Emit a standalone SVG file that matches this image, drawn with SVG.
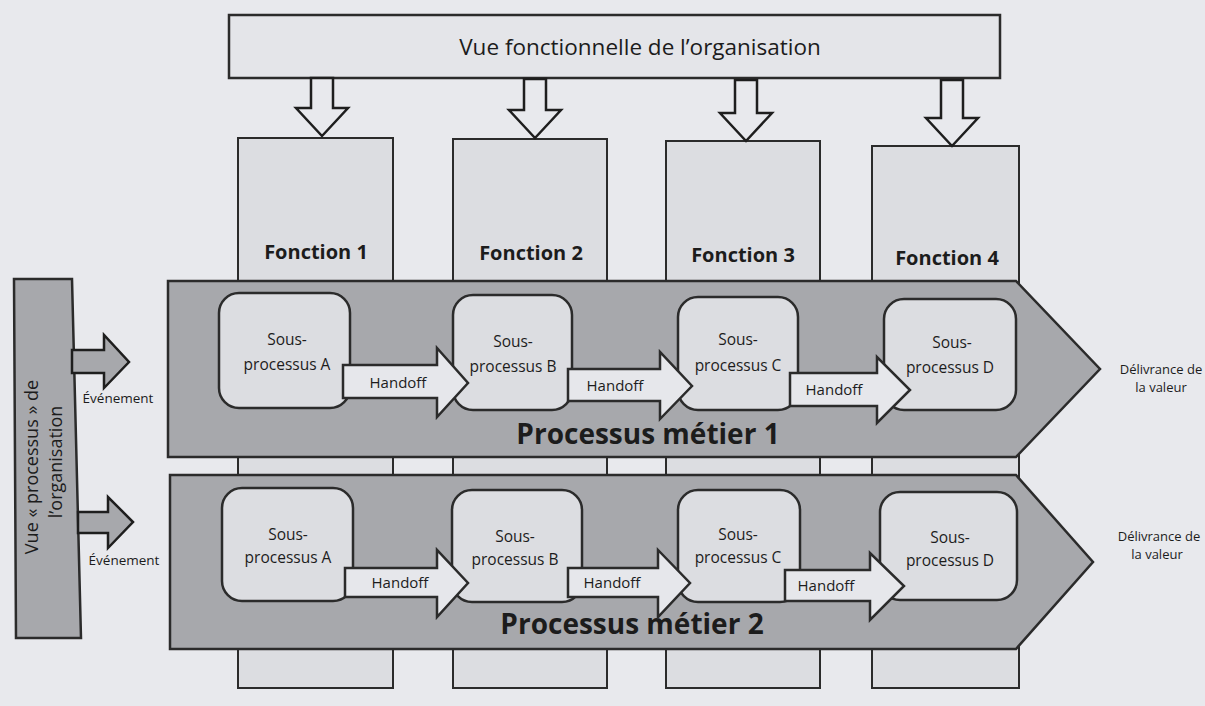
<svg xmlns="http://www.w3.org/2000/svg" width="1205" height="706" viewBox="0 0 1205 706">
<style>
.bg{fill:#e8e9ed}
.box{fill:#e4e5e9;stroke:#2b2b2b;stroke-width:2.5}
.fn{fill:#dcdde1;stroke:#2b2b2b;stroke-width:2}
.band{fill:#a7a8ac;stroke:#2b2b2b;stroke-width:2.5}
.sub{fill:#dcdde1;stroke:#2b2b2b;stroke-width:2.5}
.ho{fill:#e6e7eb;stroke:#2b2b2b;stroke-width:2.5;stroke-linejoin:miter}
.down{fill:#e8e9ed;stroke:#1e1e1e;stroke-width:2.5}
.ev{fill:#a7a8ac;stroke:#1e1e1e;stroke-width:2.5}
text{font-family:"Open Sans","Noto Sans","DejaVu Sans",sans-serif;fill:#1c1c1c;text-anchor:middle}
.t1{font-size:22.5px}
.fl{font-size:20px;font-weight:bold}
.st{font-size:15.5px}
.hl{font-size:15px}
.pt{font-size:28px;font-weight:bold}
.sm{font-size:13.5px}
.xs{font-size:13px}
.vt{font-size:18px}
</style>
<rect class="bg" x="0" y="0" width="1205" height="706"/>

<g id="functions">
<g id="fonction1"><rect class="fn" x="238" y="138" width="155" height="550"/><text class="fl" x="316" y="259">Fonction 1</text></g>
<g id="fonction2"><rect class="fn" x="453" y="139" width="154" height="549"/><text class="fl" x="531" y="260">Fonction 2</text></g>
<g id="fonction3"><rect class="fn" x="666" y="141" width="154" height="547"/><text class="fl" x="743" y="262">Fonction 3</text></g>
<g id="fonction4"><rect class="fn" x="872" y="146" width="147" height="542"/><text class="fl" x="947" y="265">Fonction 4</text></g>
</g>

<g id="vue-fonctionnelle"><rect class="box" x="229" y="15" width="771" height="63"/><text class="t1" x="640" y="55">Vue fonctionnelle de l’organisation</text></g>

<g id="connectors">
<polygon class="down" points="311,78 333,78 333,108 348,108 322,136 296,108 311,108"/>
<polygon class="down" points="524,79 546,79 546,110 561,110 535,138 509,110 524,110"/>
<polygon class="down" points="735,80 757,80 757,113 772,113 746,141 720,113 735,113"/>
<polygon class="down" points="941,80 963,80 963,118 978,118 952,146 926,118 941,118"/>
</g>

<g id="processus1">
<polygon class="band" points="168,281 1016,281 1100,369 1016,457 168,457"/>
<g id="p1-sousA"><rect class="sub" x="219" y="293" width="131" height="115" rx="20"/><text class="st" x="287" y="345">Sous-</text><text class="st" x="287" y="370">processus A</text></g>
<g id="p1-sousB"><rect class="sub" x="453" y="295" width="119" height="115" rx="20"/><text class="st" x="513" y="347">Sous-</text><text class="st" x="513" y="372">processus B</text></g>
<g id="p1-sousC"><rect class="sub" x="678" y="297" width="120" height="113" rx="20"/><text class="st" x="738" y="345">Sous-</text><text class="st" x="738" y="371">processus C</text></g>
<g id="p1-sousD"><rect class="sub" x="884" y="299" width="132" height="111" rx="20"/><text class="st" x="952" y="348">Sous-</text><text class="st" x="950" y="373">processus D</text></g>
<text class="pt" x="648" y="444">Processus métier 1</text>
</g>

<g id="processus2">
<polygon class="band" points="170,475 1016,475 1093,562 1016,649 170,649"/>
<g id="p2-sousA"><rect class="sub" x="222" y="488" width="131" height="113" rx="20"/><text class="st" x="288" y="540">Sous-</text><text class="st" x="288" y="563">processus A</text></g>
<g id="p2-sousB"><rect class="sub" x="452" y="490" width="130" height="112" rx="20"/><text class="st" x="515" y="542">Sous-</text><text class="st" x="515" y="565">processus B</text></g>
<g id="p2-sousC"><rect class="sub" x="678" y="490" width="122" height="112" rx="20"/><text class="st" x="738" y="540">Sous-</text><text class="st" x="738" y="563">processus C</text></g>
<g id="p2-sousD"><rect class="sub" x="880" y="492" width="137" height="108" rx="20"/><text class="st" x="950" y="543">Sous-</text><text class="st" x="950" y="566">processus D</text></g>
<text class="pt" x="632" y="634">Processus métier 2</text>
</g>

<g id="handoffs">
<g><polygon class="ho" points="343,365 437,365 437,348 468,383 437,417 437,398 343,398"/><text class="hl" x="398" y="388">Handoff</text></g>
<g><polygon class="ho" points="568,369 660,369 660,352 692,386 660,419 660,401 568,401"/><text class="hl" x="615" y="391">Handoff</text></g>
<g><polygon class="ho" points="790,373 877,373 877,357 910,390 877,423 877,406 790,406"/><text class="hl" x="834" y="395">Handoff</text></g>
<g><polygon class="ho" points="345,568 437,568 437,550 468,583 437,617 437,597 345,597"/><text class="hl" x="400" y="588">Handoff</text></g>
<g><polygon class="ho" points="568,568 658,568 658,550 690,583 658,617 658,597 568,597"/><text class="hl" x="612" y="588">Handoff</text></g>
<g><polygon class="ho" points="785,570 870,570 870,553 904,586 870,620 870,601 785,601"/><text class="hl" x="826" y="591">Handoff</text></g>
</g>

<g id="vue-processus">
<polygon class="band" points="14,279 72,279 81,638 16,638"/>
<text class="vt" transform="translate(38,467) rotate(-90)">Vue « processus » de</text>
<text class="vt" transform="translate(62,462) rotate(-90)">l’organisation</text>
</g>

<g id="evenements">
<polygon class="ev" points="72,350 104,350 104,335 129,362 104,388 104,373 72,373"/>
<text class="sm" x="118" y="403">Événement</text>
<polygon class="ev" points="78,512 108,512 108,497 133,522 108,548 108,533 78,533"/>
<text class="sm" x="124" y="565">Événement</text>
</g>

<g id="valeur">
<text class="xs" x="1161" y="374">Délivrance de</text>
<text class="xs" x="1161" y="392">la valeur</text>
<text class="xs" x="1159" y="541">Délivrance de</text>
<text class="xs" x="1157" y="559">la valeur</text>
</g>
</svg>
